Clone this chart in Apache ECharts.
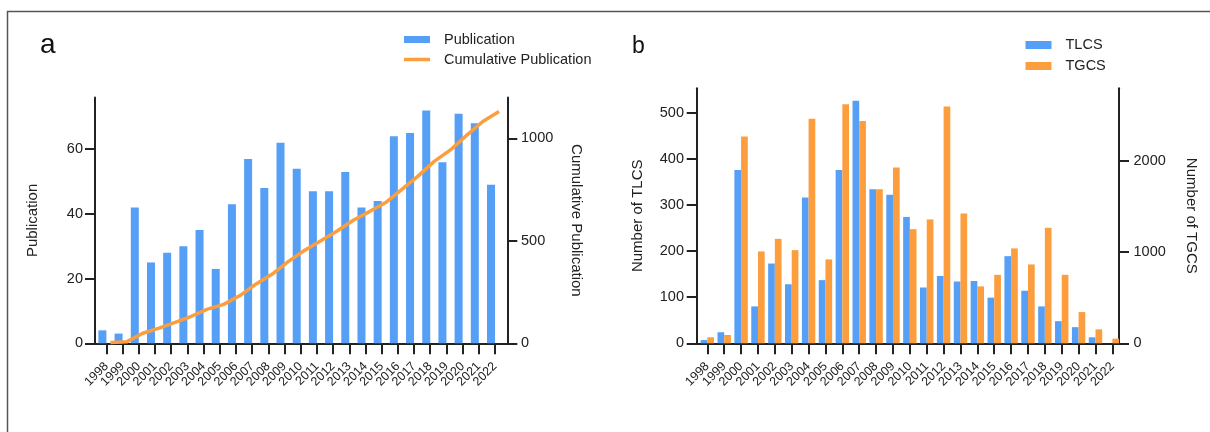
<!DOCTYPE html>
<html><head><meta charset="utf-8">
<script src="https://cdn.jsdelivr.net/npm/echarts@6/dist/echarts.min.js"></script>
<style>html,body{margin:0;padding:0;background:#fff}#c{width:1210px;height:432px}</style>
</head><body><div id="c"></div>
<script>
// ---- data ----
const years = ['1998','1999','2000','2001','2002','2003','2004','2005','2006','2007','2008','2009','2010','2011','2012','2013','2014','2015','2016','2017','2018','2019','2020','2021','2022'];
const publication = [4,3,42,25,28,30,35,23,43,57,48,62,54,47,47,53,42,44,64,65,72,56,71,68,49];
const cumulativePublication = [4,7,49,74,102,132,167,190,233,290,338,400,454,501,548,601,643,687,751,816,888,944,1015,1083,1132];
const tlcs = [7,24,376,80,173,128,316,137,376,526,334,322,274,121,146,134,135,99,189,114,80,48,35,13,0];
const tgcs = [66,91,2270,1009,1147,1023,2467,921,2624,2441,1692,1930,1253,1360,2599,1425,625,752,1042,866,1268,752,343,153,51];
const pubTicks = [0,20,40,60];
const cumTicks = [0,500,1000];
const tlcsTicks = [0,100,200,300,400,500];
const tgcsTicks = [0,1000,2000];

// ---- style ----
const BLUE = '#559ff6';
const ORANGE = '#fd9e3e';
const INK = '#222';
const FONT = '"Liberation Sans", Arial, Helvetica, sans-serif';

const chart = echarts.init(document.getElementById('c'), null, {renderer: 'canvas'});
const plain = v => String(v);

function yAx(o, ticks, margin) {
  return Object.assign({
    type: 'value', min: 0, splitLine: {show: false},
    axisLine: {show: true, lineStyle: {color: INK, width: 2}},
    axisTick: {show: true, length: 10, customValues: ticks, lineStyle: {color: INK, width: 2}},
    axisLabel: {customValues: ticks, margin: margin, formatter: plain, fontSize: 14.5, color: INK, fontFamily: FONT},
    nameLocation: 'middle',
    nameTextStyle: {fontSize: 15, color: INK, fontFamily: FONT}
  }, o);
}
function hiddenAx(o) { return Object.assign({show: false}, o); }
function catAx(grid) {
  return {gridIndex: grid, type: 'category', data: years, boundaryGap: true,
    axisLine: {show: false},
    axisTick: {show: true, alignWithLabel: true, interval: 0, length: 11, lineStyle: {color: INK, width: 2}},
    axisLabel: {interval: 0, rotate: 45, fontSize: 12.5, margin: 21, color: INK, fontFamily: FONT}};
}
function lineAx(grid) {
  return {gridIndex: grid, type: 'value', min: 0, max: 1,
    axisLine: {show: true, lineStyle: {color: INK, width: 2}},
    axisTick: {show: false}, axisLabel: {show: false}, splitLine: {show: false}};
}

const option = {
  animation: false,
  backgroundColor: '#fff',
  textStyle: {fontFamily: FONT},
  grid: [
    {left: 98.3, width: 404.8, top: 97.5, height: 245.8},   // 0 A main
    {left: 95, width: 412.3, top: 97.5, height: 245.8},     // 1 A x-axis line
    {left: 102.3, width: 404.8, top: 97.5, height: 245.8},  // 2 A line offset
    {left: 698.9, width: 421.9, top: 88.3, height: 255},    // 3 B main
    {left: 696.7, width: 422.3, top: 88.3, height: 255}     // 4 B x-axis line
  ],
  xAxis: [
    catAx(0),
    lineAx(1),
    hiddenAx({gridIndex: 2, type: 'category', data: years, boundaryGap: true}),
    catAx(3),
    lineAx(4)
  ],
  yAxis: [
    yAx({gridIndex: 0, position: 'left', offset: 3.3, max: 76, name: 'Publication', nameGap: 55}, pubTicks, 12),
    yAx({gridIndex: 0, position: 'right', offset: 4.2, max: 1200, name: 'Cumulative Publication', nameGap: 61, nameRotate: -90}, cumTicks, 13.7),
    hiddenAx({gridIndex: 1, type: 'value', min: 0, max: 1}),
    hiddenAx({gridIndex: 2, type: 'value', min: 0, max: 1200}),
    yAx({gridIndex: 3, position: 'left', offset: 2.2, max: 553, name: 'Number of TLCS', nameGap: 51}, tlcsTicks, 12.7),
    yAx({gridIndex: 3, position: 'right', offset: -1.8, max: 2800, name: 'Number of TGCS', nameGap: 65, nameRotate: -90}, tgcsTicks, 14.5),
    hiddenAx({gridIndex: 4, type: 'value', min: 0, max: 1})
  ],
  legend: [
    {data: [{name: 'Publication', icon: 'rect'}, {name: 'Cumulative Publication', icon: 'path://M0 0H26V3.5H0Z'}],
     orient: 'vertical', left: 404, top: 29.5, padding: 0, itemWidth: 26, itemHeight: 7, itemGap: 0,
     textStyle: {fontSize: 14.5, lineHeight: 20, color: INK, fontFamily: FONT, padding: [0, 0, 0, 9]}},
    {data: [{name: 'TLCS', icon: 'rect'}, {name: 'TGCS', icon: 'rect'}],
     orient: 'vertical', left: 1025.5, top: 34.5, padding: 0, itemWidth: 26, itemHeight: 8, itemGap: 0,
     textStyle: {fontSize: 14.5, lineHeight: 21, color: INK, fontFamily: FONT, padding: [0, 0, 0, 9]}}
  ],
  series: [
    {name: 'Publication', type: 'bar', xAxisIndex: 0, yAxisIndex: 0, data: publication,
     barWidth: 8, barGap: '0%', itemStyle: {color: BLUE}},
    {name: 'pad', type: 'bar', xAxisIndex: 0, yAxisIndex: 0, data: [],
     barWidth: 8, barGap: '0%', silent: true},
    {name: 'Cumulative Publication', type: 'line', xAxisIndex: 2, yAxisIndex: 3, data: cumulativePublication,
     symbol: 'none', showSymbol: false, color: ORANGE, itemStyle: {color: ORANGE},
     lineStyle: {color: ORANGE, width: 3.5}, z: 5},
    {name: 'TLCS', type: 'bar', xAxisIndex: 3, yAxisIndex: 4, data: tlcs,
     barWidth: 6.7, barGap: '0%', itemStyle: {color: BLUE}},
    {name: 'TGCS', type: 'bar', xAxisIndex: 3, yAxisIndex: 5, data: tgcs,
     barWidth: 6.7, barGap: '0%', itemStyle: {color: ORANGE}}
  ],
  graphic: [
    {type: 'polyline', silent: true,
     shape: {points: [[7.5, 432], [7.5, 11.5], [1210, 11.5]]},
     style: {stroke: '#555', lineWidth: 1.5, fill: null}},
    {type: 'text', silent: true,
     style: {text: 'a', x: 40, y: 45.5, font: '28px ' + FONT, fill: '#111', verticalAlign: 'middle'}},
    {type: 'text', silent: true,
     style: {text: 'b', x: 632, y: 47, font: '23px ' + FONT, fill: '#111', verticalAlign: 'middle'}}
  ]
};
chart.setOption(option);
</script>
</body></html>
